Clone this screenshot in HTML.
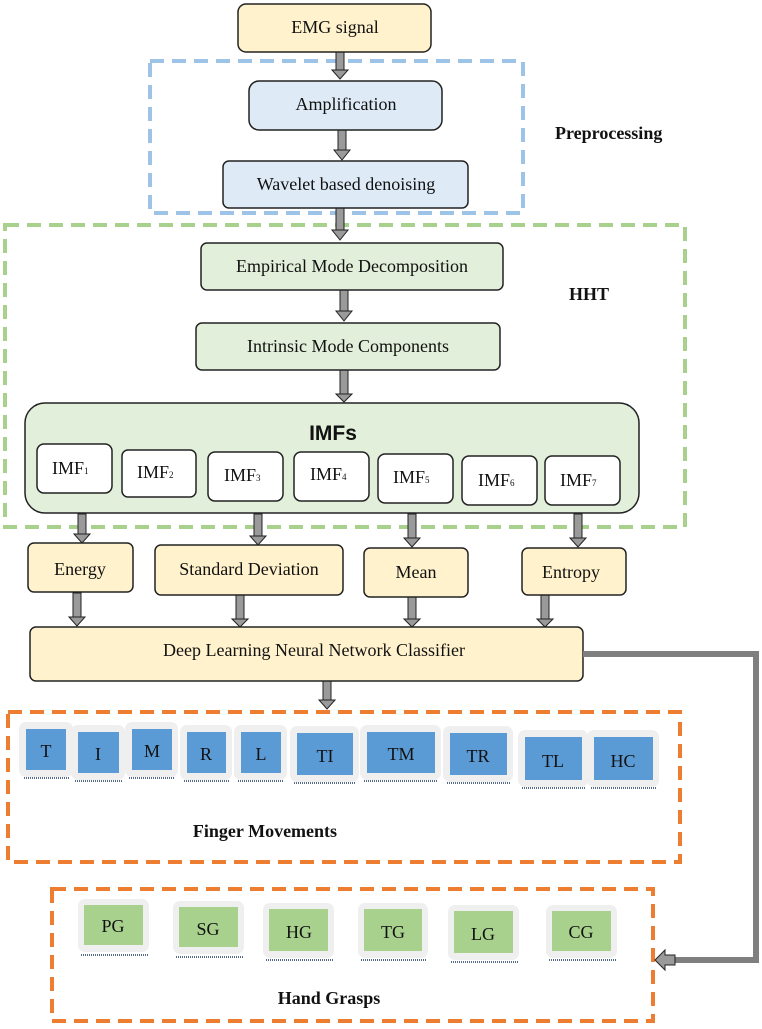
<!DOCTYPE html>
<html><head><meta charset="utf-8"><style>
html,body{margin:0;padding:0;background:#fff;}
svg{display:block;}
text{font-family:"Liberation Serif",serif;font-size:18px;fill:#111;}
.b{font-weight:bold;}
</style></head><body>
<svg width="762" height="1029" viewBox="0 0 762 1029" xmlns="http://www.w3.org/2000/svg">
<!-- dashed groups -->
<rect x="150" y="61" width="373" height="152" fill="none" stroke="#9dc3e6" stroke-width="4" stroke-dasharray="14,8"/>
<rect x="5" y="225" width="680" height="302" fill="none" stroke="#a9d18e" stroke-width="4" stroke-dasharray="14,8"/>
<rect x="8" y="712" width="672" height="150" fill="none" stroke="#ed7d31" stroke-width="4" stroke-dasharray="14,8"/>
<rect x="52" y="889" width="601" height="132" fill="none" stroke="#ed7d31" stroke-width="4" stroke-dasharray="14,8"/>

<!-- arrows top -->
<g transform="translate(340,52)"><rect x="-4" y="0" width="8" height="18" fill="#9a9a9a" stroke="#222"/><polygon points="-8,18 8,18 0,27" fill="#9a9a9a" stroke="#222"/></g>
<g transform="translate(342,130)"><rect x="-4" y="0" width="8" height="20" fill="#9a9a9a" stroke="#222"/><polygon points="-8,20 8,20 0,30" fill="#9a9a9a" stroke="#222"/></g>
<g transform="translate(340,208)"><rect x="-4" y="0" width="8" height="22" fill="#9a9a9a" stroke="#222"/><polygon points="-8,22 8,22 0,32" fill="#9a9a9a" stroke="#222"/></g>
<g transform="translate(344,290)"><rect x="-4" y="0" width="8" height="21" fill="#9a9a9a" stroke="#222"/><polygon points="-8,21 8,21 0,31" fill="#9a9a9a" stroke="#222"/></g>
<g transform="translate(344,370)"><rect x="-4" y="0" width="8" height="24" fill="#9a9a9a" stroke="#222"/><polygon points="-8,24 8,24 0,32" fill="#9a9a9a" stroke="#222"/></g>

<rect x="238" y="4" width="193" height="48" rx="8" fill="#fff2cc" stroke="#222" stroke-width="1.5"/>
<text x="335" y="33" text-anchor="middle">EMG signal</text>
<rect x="249" y="81" width="193" height="49" rx="10" fill="#deebf7" stroke="#222" stroke-width="1.5"/>
<text x="346" y="110" text-anchor="middle">Amplification</text>
<rect x="223" y="161" width="245" height="47" rx="6" fill="#deebf7" stroke="#222" stroke-width="1.5"/>
<text x="346" y="190" text-anchor="middle">Wavelet based denoising</text>
<text x="555" y="139" class="b">Preprocessing</text>

<rect x="201" y="243" width="302" height="47" rx="6" fill="#e2efda" stroke="#222" stroke-width="1.5"/>
<text x="352" y="272" text-anchor="middle">Empirical Mode Decomposition</text>
<rect x="196" y="323" width="304" height="47" rx="6" fill="#e2efda" stroke="#222" stroke-width="1.5"/>
<text x="348" y="352" text-anchor="middle">Intrinsic Mode Components</text>
<text x="569" y="300" class="b">HHT</text>

<rect x="25" y="403" width="614" height="110" rx="20" fill="#e2efda" stroke="#222" stroke-width="1.5"/>
<text x="333" y="440" text-anchor="middle" style="font-family:'Liberation Sans',sans-serif;font-weight:bold;font-size:21px">IMFs</text>
<g>
<rect x="37" y="444" width="75" height="49" rx="7" fill="#fff" stroke="#222" stroke-width="1.5"/><text x="52" y="474">IMF<tspan font-size="9">1</tspan></text>
<rect x="122" y="450" width="74" height="47" rx="6" fill="#fff" stroke="#222" stroke-width="1.5"/><text x="137" y="478">IMF<tspan font-size="9">2</tspan></text>
<rect x="208" y="452" width="75" height="49" rx="7" fill="#fff" stroke="#222" stroke-width="1.5"/><text x="224" y="481">IMF<tspan font-size="9">3</tspan></text>
<rect x="294" y="452" width="75" height="49" rx="7" fill="#fff" stroke="#222" stroke-width="1.5"/><text x="310" y="480">IMF<tspan font-size="9">4</tspan></text>
<rect x="378" y="454" width="75" height="49" rx="7" fill="#fff" stroke="#222" stroke-width="1.5"/><text x="393" y="483">IMF<tspan font-size="9">5</tspan></text>
<rect x="462" y="456" width="75" height="49" rx="7" fill="#fff" stroke="#222" stroke-width="1.5"/><text x="478" y="486">IMF<tspan font-size="9">6</tspan></text>
<rect x="545" y="456" width="75" height="49" rx="7" fill="#fff" stroke="#222" stroke-width="1.5"/><text x="560" y="486">IMF<tspan font-size="9">7</tspan></text>
</g>

<!-- arrows -->
<g fill="#9a9a9a" stroke="#222">
<rect x="78" y="514" width="8" height="20"/><polygon points="74,534 90,534 82,543"/>
<rect x="254" y="514" width="8" height="22"/><polygon points="250,536 266,536 258,545"/>
<rect x="408" y="514" width="8" height="24"/><polygon points="404,538 420,538 412,547"/>
<rect x="574" y="514" width="8" height="24"/><polygon points="570,538 586,538 578,547"/>
<rect x="73" y="593" width="8" height="24"/><polygon points="69,617 85,617 77,626"/>
<rect x="236" y="595" width="8" height="24"/><polygon points="232,619 248,619 240,627"/>
<rect x="408" y="597" width="8" height="22"/><polygon points="404,619 420,619 412,627"/>
<rect x="541" y="595" width="8" height="24"/><polygon points="537,619 553,619 545,627"/>
<rect x="323" y="680" width="8" height="20"/><polygon points="319,700 335,700 327,709"/>
</g>

<rect x="28" y="543" width="105" height="49" rx="6" fill="#fff2cc" stroke="#222" stroke-width="1.5"/>
<text x="80" y="575" text-anchor="middle">Energy</text>
<rect x="155" y="545" width="188" height="50" rx="6" fill="#fff2cc" stroke="#222" stroke-width="1.5"/>
<text x="249" y="575" text-anchor="middle">Standard Deviation</text>
<rect x="364" y="548" width="104" height="49" rx="6" fill="#fff2cc" stroke="#222" stroke-width="1.5"/>
<text x="416" y="578" text-anchor="middle">Mean</text>
<rect x="522" y="548" width="104" height="47" rx="6" fill="#fff2cc" stroke="#222" stroke-width="1.5"/>
<text x="571" y="578" text-anchor="middle">Entropy</text>

<rect x="30" y="627" width="553" height="54" rx="6" fill="#fff2cc" stroke="#222" stroke-width="1.5"/>
<text x="314" y="656" text-anchor="middle">Deep Learning Neural Network Classifier</text>

<!-- connector -->
<polyline points="583,654 756,654 756,960 675,960" fill="none" stroke="#7f7f7f" stroke-width="6"/>
<polygon points="675,955 675,965 665,965 665,970 655,960 665,950 665,955" fill="#9a9a9a" stroke="#222" stroke-width="1"/>

<!-- finger boxes: halo -->
<g fill="#efefef">
<rect x="19" y="722" width="54" height="55" rx="7"/>
<rect x="71" y="725" width="54" height="55" rx="7"/>
<rect x="125" y="722" width="53" height="55" rx="7"/>
<rect x="180" y="725" width="52" height="55" rx="7"/>
<rect x="234" y="725" width="53" height="55" rx="7"/>
<rect x="290" y="726" width="69" height="56" rx="7"/>
<rect x="360" y="725" width="81" height="55" rx="7"/>
<rect x="443" y="726" width="70" height="56" rx="7"/>
<rect x="518" y="730" width="70" height="57" rx="7"/>
<rect x="587" y="730" width="72" height="57" rx="7"/>
</g>
<g fill="#5b9bd5">
<rect x="26" y="729" width="40" height="41"/>
<rect x="78" y="732" width="41" height="41"/>
<rect x="132" y="729" width="40" height="41"/>
<rect x="187" y="732" width="39" height="41"/>
<rect x="241" y="732" width="40" height="41"/>
<rect x="297" y="733" width="56" height="42"/>
<rect x="367" y="732" width="68" height="41"/>
<rect x="450" y="733" width="57" height="42"/>
<rect x="525" y="737" width="57" height="43"/>
<rect x="594" y="737" width="59" height="43"/>
</g>
<g stroke="#1f3864" stroke-width="1.5" stroke-dasharray="1,1" fill="none">
<path d="M24,778 H70 M75,781 H122 M129,778 H175 M184,781 H229 M238,781 H284 M294,783 H356 M364,781 H438 M447,783 H510 M522,788 H585 M591,788 H656"/>
</g>
<text x="46" y="757" text-anchor="middle">T</text>
<text x="98" y="760" text-anchor="middle">I</text>
<text x="152" y="757" text-anchor="middle">M</text>
<text x="206" y="760" text-anchor="middle">R</text>
<text x="261" y="760" text-anchor="middle">L</text>
<text x="325" y="762" text-anchor="middle">TI</text>
<text x="401" y="760" text-anchor="middle">TM</text>
<text x="478" y="762" text-anchor="middle">TR</text>
<text x="553" y="767" text-anchor="middle">TL</text>
<text x="623" y="767" text-anchor="middle">HC</text>
<text x="265" y="837" text-anchor="middle" class="b">Finger Movements</text>

<!-- grasp boxes -->
<g fill="#efefef">
<rect x="78" y="899" width="71" height="53" rx="7"/>
<rect x="173" y="901" width="71" height="53" rx="7"/>
<rect x="263" y="903" width="71" height="55" rx="7"/>
<rect x="358" y="903" width="70" height="55" rx="7"/>
<rect x="448" y="905" width="71" height="55" rx="7"/>
<rect x="546" y="905" width="71" height="53" rx="7"/>
</g>
<g fill="#a9d18e">
<rect x="84" y="905" width="59" height="40"/>
<rect x="179" y="907" width="59" height="40"/>
<rect x="269" y="909" width="59" height="42"/>
<rect x="364" y="909" width="58" height="42"/>
<rect x="454" y="911" width="59" height="42"/>
<rect x="552" y="911" width="59" height="40"/>
</g>
<g stroke="#1f3864" stroke-width="1.5" stroke-dasharray="1,1" fill="none">
<path d="M81,955 H148 M176,957 H243 M266,960 H333 M361,960 H427 M451,962 H518 M549,960 H616"/>
</g>
<text x="113" y="932" text-anchor="middle">PG</text>
<text x="208" y="935" text-anchor="middle">SG</text>
<text x="299" y="938" text-anchor="middle">HG</text>
<text x="393" y="938" text-anchor="middle">TG</text>
<text x="483" y="940" text-anchor="middle">LG</text>
<text x="581" y="938" text-anchor="middle">CG</text>
<text x="329" y="1004" text-anchor="middle" class="b">Hand Grasps</text>
</svg>
</body></html>
